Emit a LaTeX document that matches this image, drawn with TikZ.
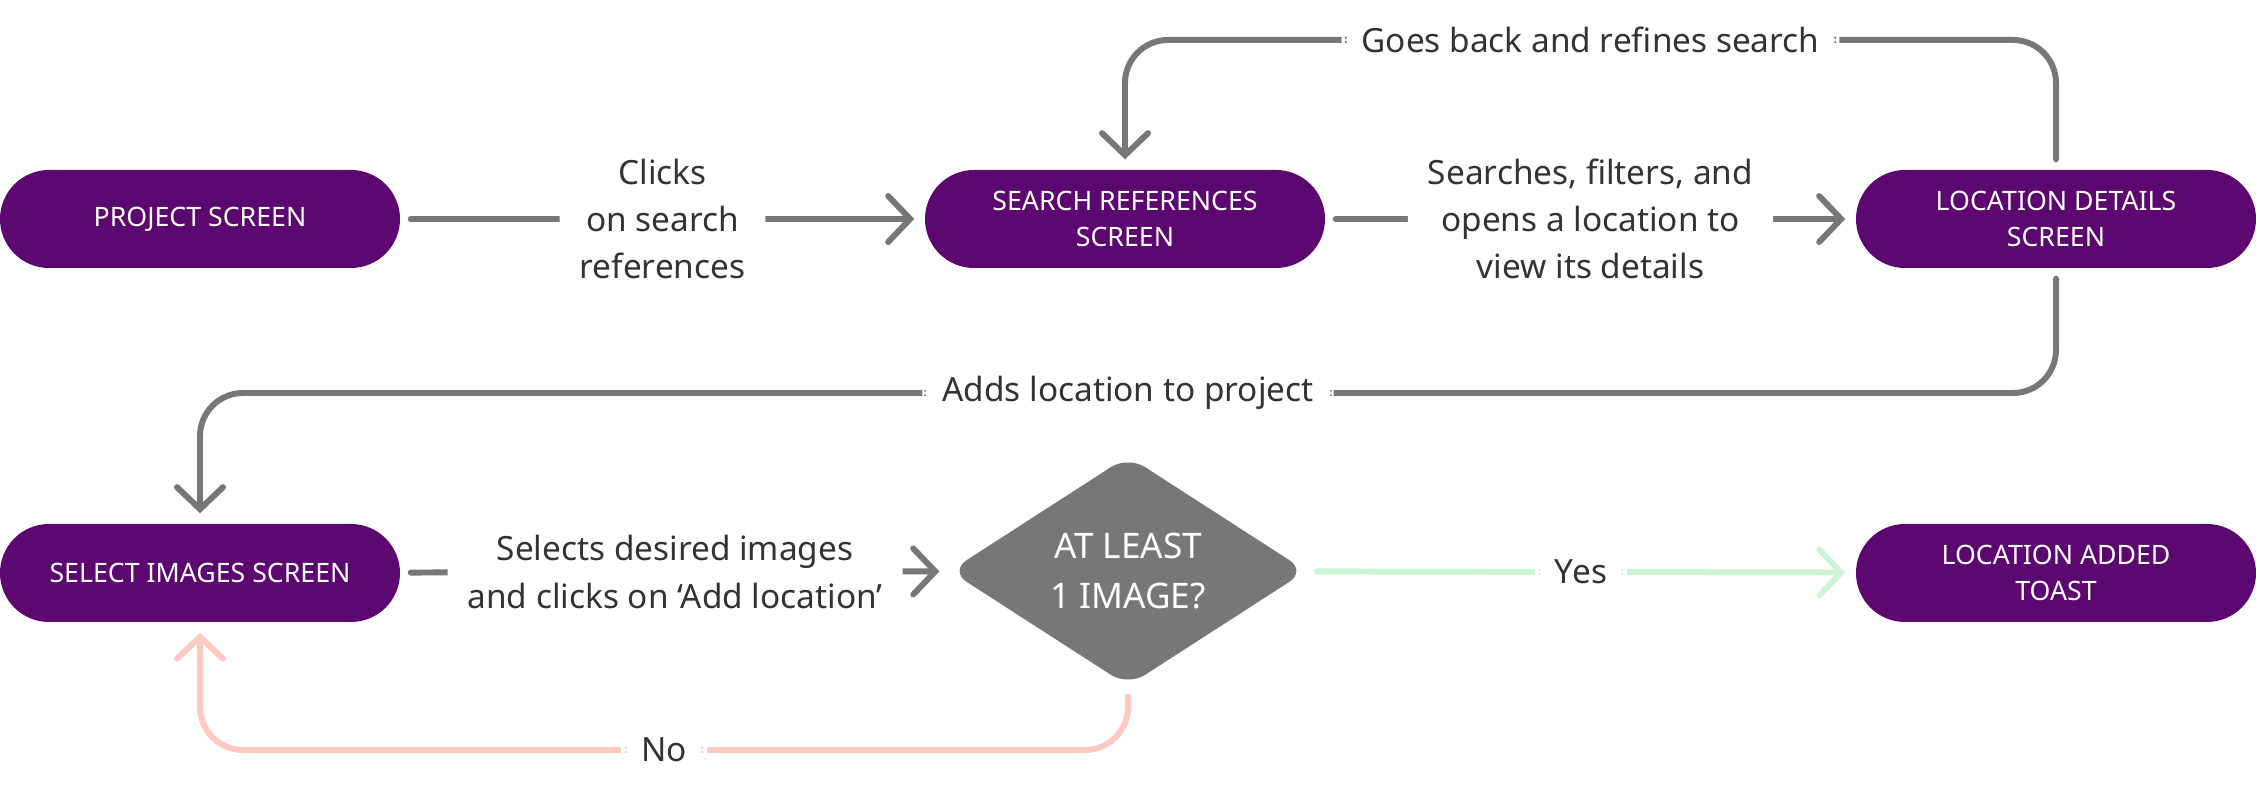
\documentclass[tikz,border=0pt]{standalone}
\usepackage{fontspec}
\setmainfont{Noto Sans}
\usetikzlibrary{arrows.meta,positioning,shapes.geometric}
\definecolor{screenpurple}{HTML}{5C0670}
\definecolor{flowgray}{HTML}{777777}
\definecolor{yesgreen}{HTML}{CCF5D5}
\definecolor{nored}{HTML}{FFC8C0}
\begin{document}
\begin{tikzpicture}[
  screen/.style={fill=screenpurple,rounded corners=0.49cm,minimum width=4cm,minimum height=0.98cm,
    align=center,text=white,font=\fontsize{7.6}{10.5}\selectfont\bfseries},
  check/.style={diamond,fill=flowgray,rounded corners=2mm,minimum width=3.57cm,minimum height=2.27cm,
    inner sep=0pt,align=center,text=white,font=\fontsize{10}{14}\selectfont},
  arr/.style={-{Straight Barb[length=2.2mm,width=4.6mm,line cap=round]},line width=1.7pt,line cap=round,
    draw=flowgray,rounded corners=0.43cm,shorten <=1mm,shorten >=1mm},
  lbl/.style={fill=white,inner xsep=2mm,align=center,text=black!80,font=\fontsize{9.5}{13.4}\selectfont}
]
\useasboundingbox (0,0) rectangle (22.56,-7.92);
\node[screen] (proj) at (2.00,-2.19) {PROJECT SCREEN};
\node[screen] (search) at (11.25,-2.19) {SEARCH REFERENCES\\SCREEN};
\node[screen] (loc) at (20.56,-2.19) {LOCATION DETAILS\\SCREEN};
\node[screen] (select) at (2.00,-5.73) {SELECT IMAGES SCREEN};
\node[check] (atleast) at (11.28,-5.71) {AT LEAST\\1 IMAGE?};
\node[screen] (toast) at (20.56,-5.73) {LOCATION ADDED\\TOAST};
\coordinate (topline) at (0,-0.40);
\coordinate (addline) at (0,-3.93);
\coordinate (noline) at (0,-7.50);
% main flow
\draw[arr] (proj) -- node[lbl] {Clicks\\on search\\references} (search);
\draw[arr] (search) -- node[lbl] {Searches, filters, and\\opens a location to\\view its details} (loc);
\draw[arr] (loc.north) -- (loc.north |- topline) -- node[lbl] {Goes back and refines search} (search.north |- topline) -- (search.north);
\draw[arr] (loc.south) -- (loc.south |- addline) -- node[lbl] {Adds location to project} (select.north |- addline) -- (select.north);
\draw[arr] (select) -- node[lbl] {Selects desired images\\and clicks on ‘Add location’} (atleast);
% decision
\draw[arr,draw=yesgreen] (atleast) -- node[lbl] {Yes} (toast);
\draw[arr,draw=nored] (atleast.south) -- (atleast.south |- noline) -- node[lbl] {No} (select.south |- noline) -- (select.south);
\end{tikzpicture}
\end{document}
